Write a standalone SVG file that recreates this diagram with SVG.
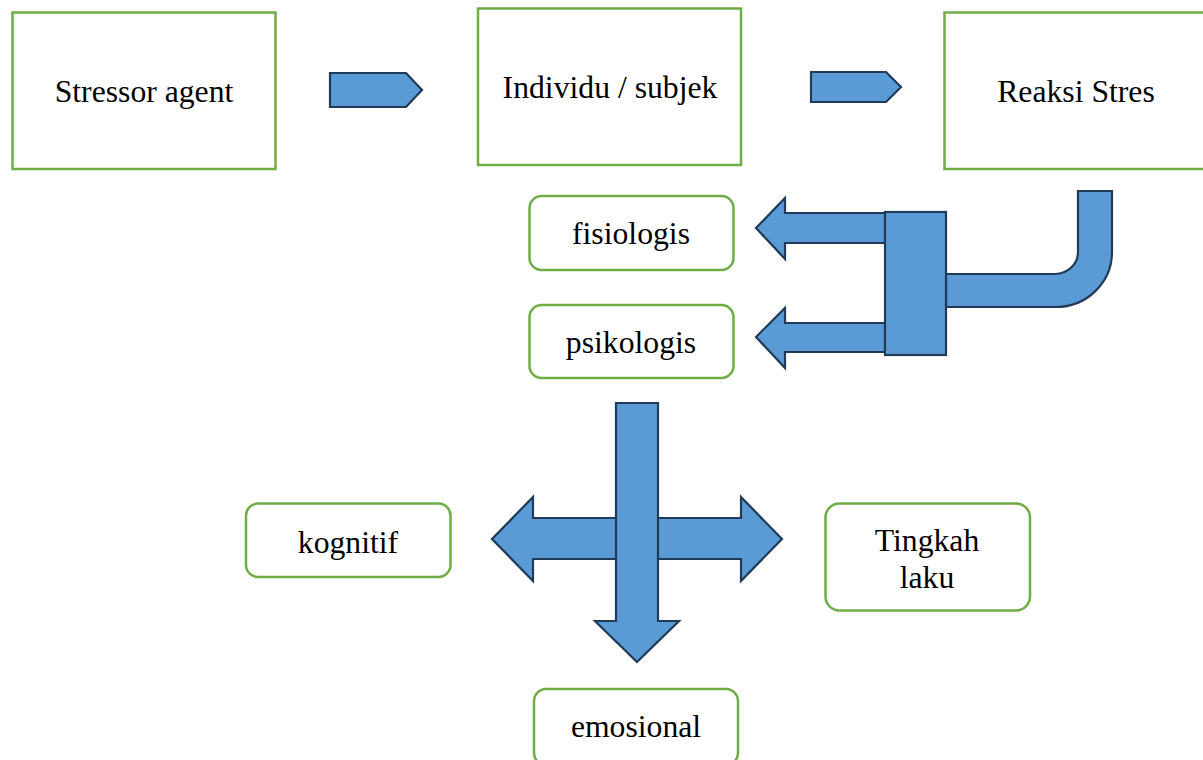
<svg xmlns="http://www.w3.org/2000/svg" width="1203" height="760" viewBox="0 0 1203 760">
<style>
.box{fill:#fff;stroke:#70AD47;stroke-width:2.5}
.arr{fill:#5B9BD5;stroke:#1F3B57;stroke-width:2.2;stroke-linejoin:miter}
text{font-family:"Liberation Serif","Times New Roman",serif;font-size:31.7px;fill:#000;text-anchor:middle}
</style>
<rect width="1203" height="760" fill="#fff"/>
<g id="stressor"><rect class="box" x="12.5" y="12.5" width="263" height="156.5"/><text x="144" y="101.5">Stressor agent</text></g>
<g id="individu"><rect class="box" x="478" y="8.5" width="263" height="156.5"/><text x="610" y="98">Individu / subjek</text></g>
<g id="reaksi"><rect class="box" x="944.5" y="12.5" width="263" height="156.5"/><text x="1076" y="101.5">Reaksi Stres</text></g>
<g id="fisiologis"><rect class="box" x="529.5" y="196" width="204" height="74" rx="12"/><text x="631" y="244">fisiologis</text></g>
<g id="psikologis"><rect class="box" x="529.5" y="305" width="204" height="73" rx="12"/><text x="631" y="353">psikologis</text></g>
<g id="kognitif"><rect class="box" x="246" y="503.5" width="204.5" height="73.5" rx="12"/><text x="348" y="553">kognitif</text></g>
<g id="tingkah"><rect class="box" x="825.5" y="503.5" width="204.5" height="107" rx="14"/><text x="927" y="551">Tingkah</text><text x="927" y="587.5">laku</text></g>
<g id="emosional"><rect class="box" x="534" y="689" width="204" height="76" rx="12"/><text x="636" y="737">emosional</text></g>
<g id="connectors">
<polygon class="arr" points="330,73 406,73 422,90 406,107 330,107"/>
<polygon class="arr" points="811,72 886,72 901,87 886,102 811,102"/>
<polygon class="arr" points="885,213 785,213 785,198 756,228 785,259 785,243 885,243"/>
<polygon class="arr" points="885,323 785,323 785,308 756,337 785,368 785,352 885,352"/>
<path class="arr" d="M946,274 L1055,274 A23,22 0 0 0 1078,252 L1078,191 L1112,191 L1112,252 A56,55 0 0 1 1056,307 L946,307 Z"/>
<rect class="arr" x="885" y="212" width="61" height="143"/>
<polygon class="arr" points="492,539 533,497 533,518 741,518 741,497 782,539 741,581 741,559 533,559 533,581"/>
<polygon class="arr" points="616,403 658,403 658,621 679,621 637,662 595,621 616,621"/>
</g>
</svg>
